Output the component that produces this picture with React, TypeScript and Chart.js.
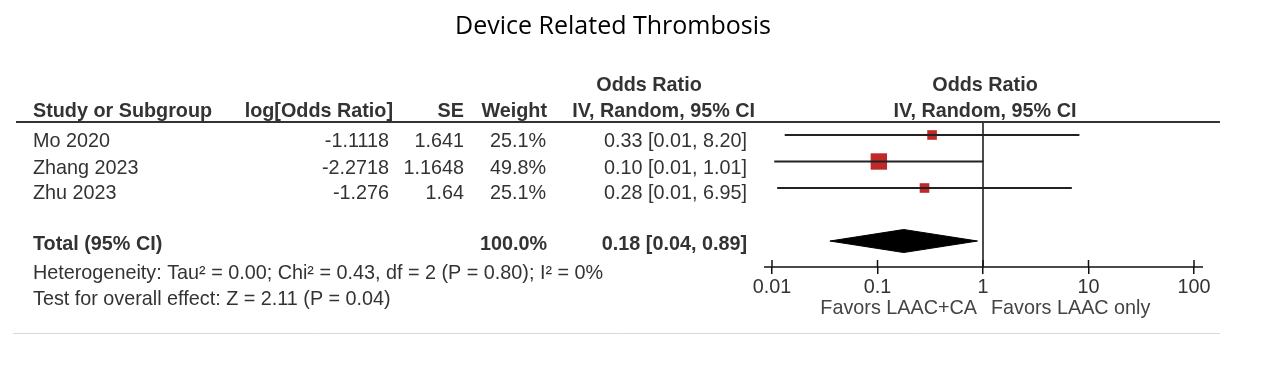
import React, { useEffect, useRef } from "react";
import { Chart, registerables } from "chart.js";

Chart.register(...registerables);

// ---------- data ----------
const TITLE = "Device Related Thrombosis";
const studies = ["Mo 2020", "Zhang 2023", "Zhu 2023"];
const logOddsRatio = [-1.1118, -2.2718, -1.276];
const standardError = [1.641, 1.1648, 1.64];
const weights = [25.1, 49.8, 25.1];
const oddsRatio = [0.329, 0.103, 0.279];
const ciLower = [0.0132, 0.0105, 0.0112];
const ciUpper = [8.2, 1.01, 6.95];
const totalLabel = "Total (95% CI)";
const totalWeight = 100.0;
const totalOR = 0.177;
const totalLower = 0.0354;
const totalUpper = 0.887;
const heterogeneityText =
  "Heterogeneity: Tau\u00b2 = 0.00; Chi\u00b2 = 0.43, df = 2 (P = 0.80); I\u00b2 = 0%";
const overallEffectText = "Test for overall effect: Z = 2.11 (P = 0.04)";
const xTicks = [0.01, 0.1, 1, 10, 100];
const favorsLeft = "Favors LAAC+CA";
const favorsRight = "Favors LAAC only";
const headersRow1 = ["Odds Ratio", "Odds Ratio"];
const headersRow2 = [
  "Study or Subgroup",
  "log[Odds Ratio]",
  "SE",
  "Weight",
  "IV, Random, 95% CI",
  "IV, Random, 95% CI",
];

// ---------- style ----------
const W = 1268;
const H = 386;
const FONT = "'Liberation Sans', Arial, sans-serif";
const FS = 19.8;
const TEXT = "#333";
const markerRadius = [6.8, 11.6, 6.8];
const SQUARE_COLOR = "#C0282A";

const fmtCI = (o: number, l: number, u: number) =>
  `${o.toFixed(2)} [${l.toFixed(2)}, ${u.toFixed(2)}]`;

const forestPlugin = {
  id: "forestTable",
  beforeDatasetsDraw(chart: any) {
    const { ctx, chartArea } = chart;
    const x = chart.scales.x;
    ctx.save();
    // vertical line of no effect
    const x1 = x.getPixelForValue(1);
    ctx.strokeStyle = "#111";
    ctx.lineWidth = 1.5;
    ctx.beginPath();
    ctx.moveTo(x1, chartArea.top);
    ctx.lineTo(x1, chartArea.bottom);
    ctx.stroke();
    ctx.restore();
  },
  afterDraw(chart: any) {
    const { ctx, chartArea } = chart;
    const x = chart.scales.x;
    ctx.save();

    // title
    ctx.fillStyle = "#000";
    ctx.font = `25px 'Open Sans', Lato, sans-serif`;
    ctx.textAlign = "center";
    ctx.textBaseline = "alphabetic";
    ctx.fillText(TITLE, 613, 34);

    // header texts
    ctx.fillStyle = TEXT;
    ctx.font = `bold ${FS}px ${FONT}`;
    ctx.textAlign = "center";
    ctx.fillText(headersRow1[0], 649, 91);
    ctx.fillText(headersRow1[1], 985, 91);
    const hb = 117;
    ctx.textAlign = "left";
    ctx.fillText(headersRow2[0], 33, hb);
    ctx.textAlign = "right";
    ctx.fillText(headersRow2[1], 393, hb);
    ctx.fillText(headersRow2[2], 464, hb);
    ctx.fillText(headersRow2[3], 547, hb);
    ctx.fillText(headersRow2[4], 755, hb);
    ctx.textAlign = "center";
    ctx.fillText(headersRow2[5], 985, hb);

    // header rule
    ctx.strokeStyle = "#333";
    ctx.lineWidth = 2;
    ctx.beginPath();
    ctx.moveTo(16, 122);
    ctx.lineTo(1220, 122);
    ctx.stroke();

    // study rows
    ctx.font = `${FS}px ${FONT}`;
    const rowBase = [147, 173.5, 199];
    studies.forEach((s, i) => {
      const b = rowBase[i];
      ctx.textAlign = "left";
      ctx.fillText(s, 33, b);
      ctx.textAlign = "right";
      ctx.fillText(String(logOddsRatio[i]), 389, b);
      ctx.fillText(String(standardError[i]), 464, b);
      ctx.fillText(weights[i].toFixed(1) + "%", 546, b);
      ctx.fillText(fmtCI(oddsRatio[i], ciLower[i], ciUpper[i]), 747, b);
    });

    // total row
    ctx.font = `bold ${FS}px ${FONT}`;
    ctx.textAlign = "left";
    ctx.fillText(totalLabel, 33, 250);
    ctx.textAlign = "right";
    ctx.fillText(totalWeight.toFixed(1) + "%", 547, 250);
    ctx.fillText(fmtCI(totalOR, totalLower, totalUpper), 747, 250);

    // heterogeneity / overall
    ctx.font = `${FS}px ${FONT}`;
    ctx.textAlign = "left";
    ctx.fillText(heterogeneityText, 33, 279);
    ctx.fillText(overallEffectText, 33, 305);

    // axis line (extended) and upper tick halves
    const yb = chartArea.bottom;
    ctx.strokeStyle = "#111";
    ctx.lineWidth = 1.5;
    ctx.beginPath();
    ctx.moveTo(chartArea.left - 8, yb);
    ctx.lineTo(chartArea.right + 9, yb);
    xTicks.forEach((t) => {
      const px = x.getPixelForValue(t);
      ctx.moveTo(px, yb - 7);
      ctx.lineTo(px, yb);
    });
    ctx.stroke();

    // favors labels
    const x1 = x.getPixelForValue(1);
    ctx.fillStyle = "#444";
    ctx.font = `${FS}px ${FONT}`;
    ctx.textAlign = "right";
    ctx.fillText(favorsLeft, x1 - 6, 314);
    ctx.textAlign = "left";
    ctx.fillText(favorsRight, x1 + 8, 314);

    // bottom rule
    ctx.strokeStyle = "#d9d9d9";
    ctx.lineWidth = 1;
    ctx.beginPath();
    ctx.moveTo(13, 333.5);
    ctx.lineTo(1220, 333.5);
    ctx.stroke();

    ctx.restore();
  },
};

export default function App() {
  const ref = useRef<HTMLCanvasElement | null>(null);

  useEffect(() => {
    if (!ref.current) return;
    const totalRow = studies.length + 1;
    const half = 0.434;
    const ciSets = studies.map((s, i) => ({
      label: s + " CI",
      data: [
        { x: ciLower[i], y: i },
        { x: ciUpper[i], y: i },
      ],
      showLine: true,
      borderColor: "#222",
      borderWidth: 2,
      pointRadius: 0,
      fill: false,
    }));
    const squares = {
      label: "Odds Ratio",
      data: oddsRatio.map((v, i) => ({ x: v, y: i })),
      pointStyle: "rect",
      pointRadius: markerRadius,
      backgroundColor: SQUARE_COLOR,
      borderWidth: 0,
      showLine: false,
    };
    const diamond = {
      label: "Total",
      data: [
        { x: totalLower, y: totalRow },
        { x: totalOR, y: totalRow - half },
        { x: totalUpper, y: totalRow },
        { x: totalOR, y: totalRow + half },
        { x: totalLower, y: totalRow },
      ],
      showLine: true,
      fill: "shape",
      backgroundColor: "#000",
      borderColor: "#000",
      borderWidth: 1,
      pointRadius: 0,
      tension: 0,
    };

    const chart = new Chart(ref.current, {
      type: "scatter",
      data: { datasets: [...ciSets, squares, diamond] as any },
      options: {
        animation: false,
        responsive: false,
        maintainAspectRatio: false,
        layout: { padding: { left: 772, right: 74, top: 122, bottom: 0 } },
        plugins: {
          legend: { display: false },
          tooltip: { enabled: false },
          title: { display: false },
        },
        scales: {
          x: {
            type: "logarithmic",
            min: 0.01,
            max: 100,
            position: "bottom",
            afterBuildTicks: (s: any) => {
              s.ticks = xTicks.map((v) => ({ value: v }));
            },
            afterFit: (s: any) => {
              s.height = 119;
            },
            ticks: {
              callback: (v: any) => String(v),
              font: { family: FONT, size: FS },
              color: "#333",
              padding: 2,
              maxRotation: 0,
              autoSkip: false,
            },
            grid: {
              drawOnChartArea: false,
              drawTicks: true,
              tickLength: 7,
              color: "#111",
              lineWidth: 1.5,
            },
            border: { display: false },
          },
          y: {
            type: "linear",
            min: -0.49,
            max: 4.98,
            reverse: true,
            display: false,
          },
        },
      } as any,
      plugins: [forestPlugin],
    });
    return () => chart.destroy();
  }, []);

  return (
    <div style={{ position: "fixed", left: 0, top: 0, width: W, height: H, background: "#fff" }}>
      <canvas ref={ref} width={W} height={H} style={{ width: W, height: H, display: "block" }} />
    </div>
  );
}
